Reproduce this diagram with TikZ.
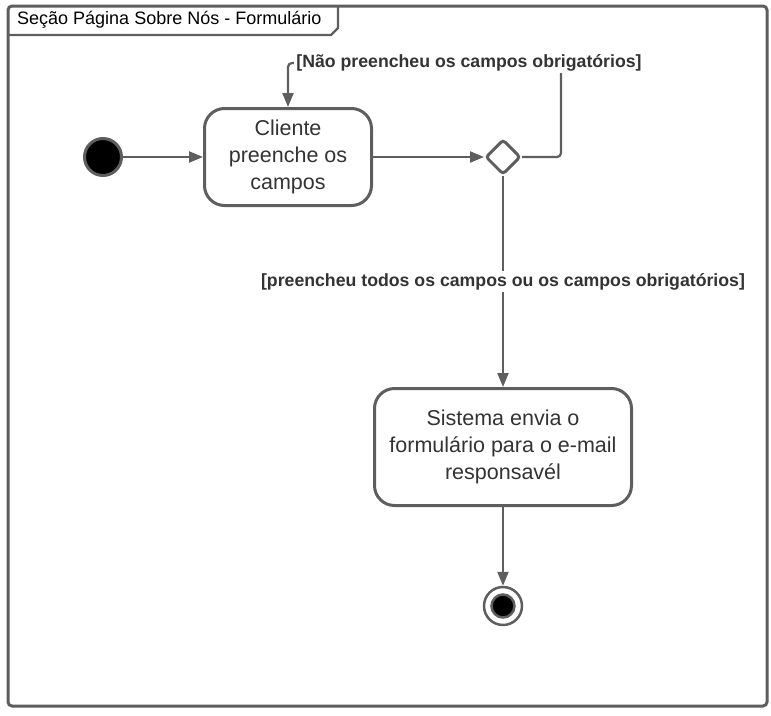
\documentclass[tikz,border=0pt]{standalone}
\usepackage{fontspec}
\setmainfont{Liberation Sans}
\usepackage{xcolor}
\usetikzlibrary{arrows.meta,shapes.geometric}
\definecolor{linha}{HTML}{5E5E5E}
\definecolor{texto}{HTML}{333333}

\begin{document}
\begin{tikzpicture}[x=1pt,y=-1pt,
	acao/.style={draw=linha,line width=3pt,rounded corners=20pt,align=center,text=texto,font=\fontsize{21.5}{27}\selectfont,inner sep=0pt},
	fluxo/.style={draw=linha,line width=2.2pt,-{Triangle[length=14pt,width=11pt]}},
	guarda/.style={fill=white,text=texto,font=\fontsize{17.7}{20}\selectfont\bfseries,inner sep=2pt}]
				\useasboundingbox (0,0) rectangle (771,715);
				\draw [linha,line width=3pt,rounded corners=4pt] (8,6) rectangle (767,706);
				\draw [linha,line width=2.2pt] (8,35) -- (331,35) -- (338,28) -- (338,6);
				\node (titulo) [anchor=west,text=black,font=\fontsize{18}{20}\selectfont,inner sep=0pt] at (17,20) {Seção Página Sobre Nós - Formulário};
				\node (inicio) [circle,fill=black,draw=linha,line width=3pt,minimum size=37pt,inner sep=0pt] at (103,157) {};
				\node (cliente) [acao,minimum width=167pt,minimum height=97pt] at (288,157) {Cliente\\preenche os\\campos};
				\node (decisao) [diamond,draw=linha,line width=3pt,fill=white,minimum width=35pt,minimum height=35pt,inner sep=0pt,rounded corners=3pt] at (503,157) {};
				\node (sistema) [acao,minimum width=257pt,minimum height=117pt] at (503,447) {Sistema envia o\\formulário para o e-mail\\responsavél};
				\node (fim) [circle,draw=linha,line width=2.5pt,minimum size=38pt,inner sep=0pt] at (503,606) {};
				\node (fimdentro) [circle,fill=black,draw=linha,line width=2.5pt,minimum size=23pt,inner sep=0pt] at (503,606) {};
				\draw [fluxo] (inicio) -- (cliente);
				\draw [fluxo] (cliente) -- (decisao);
				\draw [fluxo,rounded corners=4pt] (decisao.east) -| (561,63) -| (cliente.north);
				\node (naopreencheu) [guarda] at (469,63) {[Não preencheu os campos obrigatórios]};
				\draw [fluxo] (decisao.south) -- (sistema.north) node (preencheu) [guarda,midway] {[preencheu todos os campos ou os campos obrigatórios]};
				\draw [fluxo] (sistema) -- (fim);
				\end{tikzpicture}
\end{document}
